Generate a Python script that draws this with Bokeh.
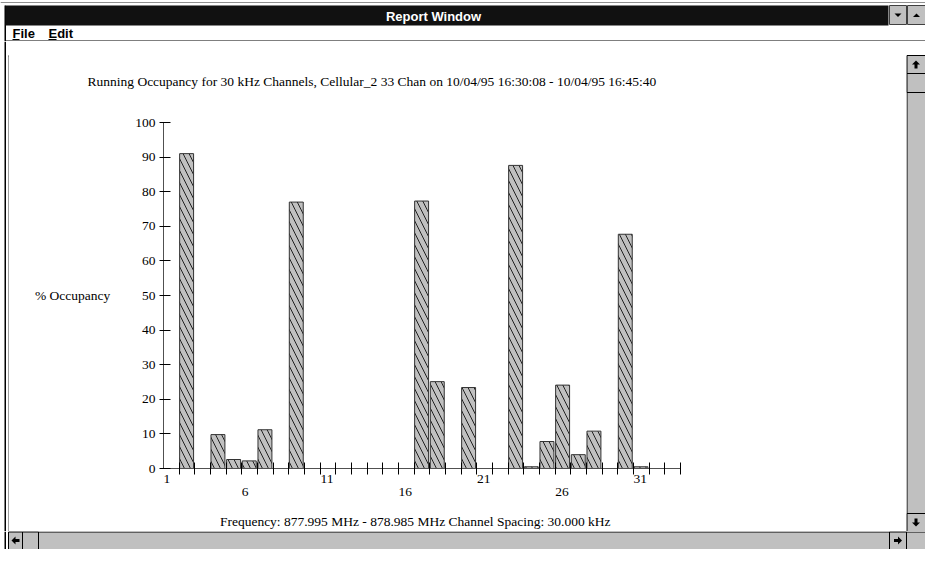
from bokeh.plotting import figure
from bokeh.layouts import column, row
from bokeh.models import FixedTicker, LinearAxis, Range1d, ColumnDataSource
from bokeh.core.properties import value
from bokeh.embed import file_html
from bokeh.resources import INLINE

# ---------------- data ----------------
channels = list(range(1, 34))
occupancy = [0, 91.0, 0, 9.8, 2.6, 2.2, 11.2, 0, 77.0, 0,
             0, 0, 0, 0, 0, 0, 77.3, 25.1, 0, 23.4,
             0, 0, 87.6, 0.5, 7.8, 24.1, 4.0, 10.8, 0, 67.7,
             0.5, 0, 0]
row1_labels = [1, 11, 21, 31]
row2_labels = [6, 16, 26]
y_ticks = list(range(0, 101, 10))
title_text = ("Running Occupancy for 30 kHz Channels, Cellular_2 33 Chan on "
              "10/04/95 16:30:08 - 10/04/95 16:45:40")
x_label = "Frequency: 877.995 MHz - 878.985 MHz    Channel Spacing:  30.000 kHz"
y_label = "% Occupancy"
window_title = "Report Window"
menu_items = ["File", "Edit"]

# ---------------- layout constants (page pixels) ----------------
W, H = 925, 549
HEAD_H = 41          # title bar + menu bar
HS_H = 18            # horizontal scroll bar
LEFT_W = 9           # window left border strip
VS_W = 19            # vertical scroll bar
MAIN_W = W - LEFT_W - VS_W
MAIN_H = H - HEAD_H - HS_H
# plot frame, in page coordinates
PFL, PFR, PFT, PFB = 163, 680, 122, 468
FL, FR = PFL - LEFT_W, PFR - LEFT_W
FT, FB = PFT - HEAD_H, PFB - HEAD_H

SERIF = "Liberation Serif"
SANS = "Liberation Sans"
FS = "13.5px"
GRAY = "#c0c0c0"
n_ch = len(channels)
px_per_unit = (FR - FL) / n_ch


def chrome_fig(w, h):
    f = figure(width=w, height=h, x_range=Range1d(0, w), y_range=Range1d(h, 0),
               x_axis_type=None, y_axis_type=None,
               output_backend="svg", toolbar_location=None, min_border=0)
    f.outline_line_color = None
    f.background_fill_color = "white"
    f.border_fill_color = "white"
    return f


def box(f, l, t, r, b, fill, line=None):
    f.quad(left=[l], right=[r], top=[t], bottom=[b], fill_color=fill,
           line_color=line, line_width=1)


def arrow(f, cx, cy, d):
    h, s, ln = 4, 1.5, 4
    pts = [(0, -h), (h, 0), (s, 0), (s, ln), (-s, ln), (-s, 0), (-h, 0)]
    xs, ys = [], []
    for x, y in pts:
        if d == "up":
            xs.append(cx + x); ys.append(cy + y)
        elif d == "down":
            xs.append(cx + x); ys.append(cy - y)
        elif d == "left":
            xs.append(cx + y); ys.append(cy + x)
        else:
            xs.append(cx - y); ys.append(cy + x)
    f.patch(xs, ys, fill_color="black", line_color=None)


# ---------------- main chart ----------------
p = figure(width=MAIN_W, height=MAIN_H,
           x_range=Range1d(channels[0], channels[-1] + 1),
           y_range=Range1d(0, 100),
           x_axis_type=None,
           output_backend="svg", toolbar_location=None,
           min_border_left=FL, min_border_right=MAIN_W - FR,
           min_border_top=FT, min_border_bottom=MAIN_H - FB)
p.outline_line_color = None
p.grid.visible = False
p.background_fill_color = "white"
p.border_fill_color = "white"

nz = [(c, v) for c, v in zip(channels, occupancy) if v > 0]
src = ColumnDataSource(dict(
    left=[c + 0.03 for c, _ in nz],
    right=[c + 0.92 for c, _ in nz],
    top=[v for _, v in nz],
))
p.quad(left="left", right="right", bottom=0, top="top", source=src,
       fill_color=GRAY, line_color="#333333", line_width=1,
       hatch_pattern="\\", hatch_color="#222222", hatch_scale=12, hatch_weight=1)

ya = p.yaxis[0]
ya.ticker = FixedTicker(ticks=y_ticks)
ya.major_tick_in = 7
ya.major_tick_out = 4
ya.minor_tick_in = 0
ya.minor_tick_out = 0
ya.major_label_standoff = 4
ya.major_label_text_font = SERIF
ya.major_label_text_font_size = FS
ya.major_label_text_color = "black"
ya.axis_line_color = "#505050"
ya.major_tick_line_color = "black"
ya.axis_label = y_label
ya.axis_label_orientation = "horizontal"
ya.axis_label_standoff = 22
ya.axis_label_text_font = SERIF
ya.axis_label_text_font_size = FS
ya.axis_label_text_font_style = "normal"
ya.axis_label_text_color = "black"


def label_pos(c):
    # labels are left-aligned at their channel's tick
    return round(c + len(str(c)) * 3.4 / px_per_unit, 4)


r1 = [label_pos(c) for c in row1_labels]
ax1 = LinearAxis(ticker=FixedTicker(ticks=r1, minor_ticks=list(range(channels[0] + 1, channels[-1] + 2))),
                 major_label_overrides={pos: str(c) for pos, c in zip(r1, row1_labels)},
                 major_tick_in=0, major_tick_out=0,
                 minor_tick_in=6, minor_tick_out=6,
                 minor_tick_line_color="black",
                 axis_line_color="#505050",
                 major_label_standoff=0,
                 major_label_text_font=SERIF, major_label_text_font_size=FS,
                 major_label_text_color="black")
p.add_layout(ax1, "below")

r2 = [label_pos(c) for c in row2_labels]
ax2 = LinearAxis(ticker=FixedTicker(ticks=r2, minor_ticks=[]),
                 major_label_overrides={pos: str(c) for pos, c in zip(r2, row2_labels)},
                 major_tick_in=0, major_tick_out=0,
                 minor_tick_in=0, minor_tick_out=0,
                 axis_line_color=None,
                 major_label_standoff=2,
                 major_label_text_font=SERIF, major_label_text_font_size=FS,
                 major_label_text_color="black",
                 axis_label=x_label, axis_label_standoff=15,
                 axis_label_text_font=SERIF, axis_label_text_font_size=FS,
                 axis_label_text_font_style="normal", axis_label_text_color="black")
p.add_layout(ax2, "below")

p.title.text = title_text
p.title.text_font = SERIF
p.title.text_font_size = FS
p.title.text_font_style = "normal"
p.title.text_color = "black"
p.title.align = "left"
p.title.offset = -76
p.title.vertical_align = "top"
p.title.standoff = 63

# ---------------- header: title bar + menu bar ----------------
hd = chrome_fig(W, HEAD_H)
box(hd, 0, 1.5, W, 2.5, "#909090")
box(hd, 4, 5, 5.5, HEAD_H, "black")
box(hd, 5, 5, 888, 25, "#111111")
box(hd, 889, 5, 906, 24, GRAY, "#404040")
box(hd, 907, 5, 925, 24, GRAY, "#404040")
hd.patch([894, 901, 897.5], [13, 13, 16.5], fill_color="black", line_color=None)
hd.patch([912.5, 919.5, 916], [16.5, 16.5, 13], fill_color="black", line_color=None)
hd.text(x=[433], y=[15.5], text=[window_title], text_align="center", text_baseline="middle",
        text_color="white", text_font=value(SANS), text_font_size="13px", text_font_style="bold")
hd.text(x=[12, 48], y=[33, 33], text=menu_items, text_align="left", text_baseline="middle",
        text_color="black", text_font=value(SANS), text_font_size="13px", text_font_style="bold")
box(hd, 12, 38.5, 19, 39.5, "black")
box(hd, 48, 38.5, 56, 39.5, "black")
box(hd, 5, 40, W, 41, "black")

# ---------------- left window border ----------------
lf = chrome_fig(LEFT_W, MAIN_H)
box(lf, 4, 0, 5.5, MAIN_H, "black")
box(lf, 8, 14, 9, MAIN_H, "#404040")
box(lf, 8, 14, 9, 15, "#404040")

# ---------------- vertical scroll bar ----------------
vs = chrome_fig(VS_W, MAIN_H)
box(vs, 0.5, 14, VS_W, MAIN_H, GRAY, "black")
box(vs, 0.5, 14, VS_W, 32, GRAY, "black")
arrow(vs, 9.5, 23, "up")
box(vs, 0.5, 32, VS_W, 51, GRAY, "black")
box(vs, 0.5, MAIN_H - 18, VS_W, MAIN_H, GRAY, "black")
arrow(vs, 9.5, MAIN_H - 9, "down")

# ---------------- horizontal scroll bar ----------------
hs = chrome_fig(W, HS_H)
box(hs, 4, 0, 5.5, HS_H, "black")
box(hs, 8, 0.5, 906, HS_H, GRAY, "black")
box(hs, 8, 0.5, 22, HS_H, GRAY, "black")
arrow(hs, 15, 9, "left")
box(hs, 22, 0.5, 38, HS_H, GRAY, "black")
box(hs, 889, 0.5, 906, HS_H, GRAY, "black")
arrow(hs, 897.5, 9, "right")
box(hs, 906, 0.5, W, HS_H, GRAY, "black")

# each piece wrapped on its own so that plot frames are not aligned with each other
layout = column(column(hd), row(column(lf), column(p), column(vs)), column(hs))
open("out.html", "w").write(file_html(layout, INLINE))
